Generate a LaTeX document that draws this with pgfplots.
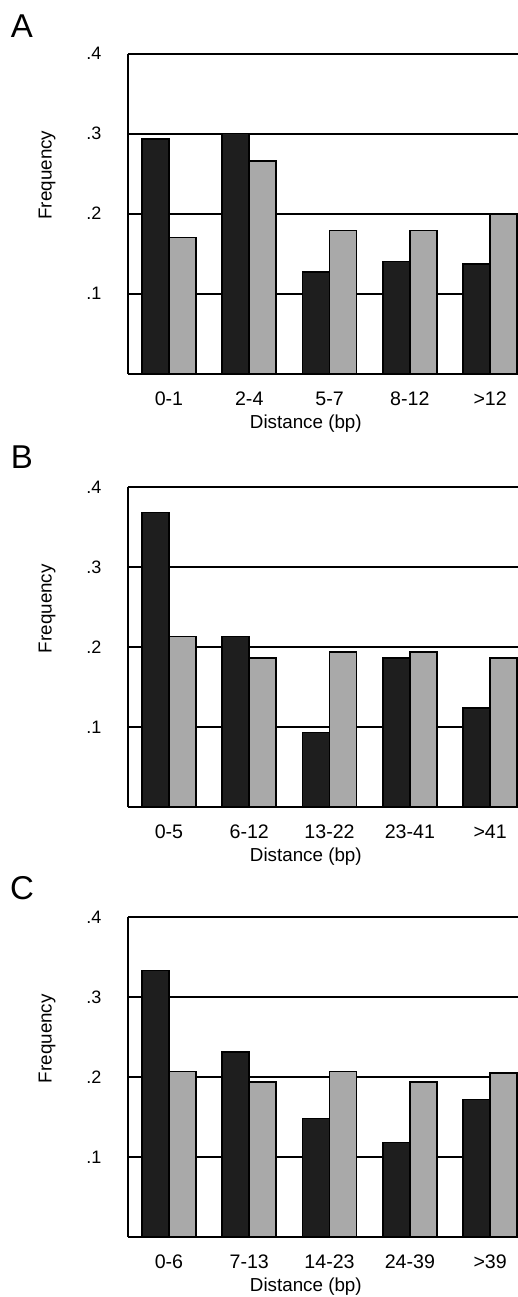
\documentclass[border=0pt]{standalone}
\usepackage{fontspec}
\setmainfont{Liberation Sans}
\usepackage{pgfplots}
\pgfplotsset{compat=1.18}
\definecolor{darkbar}{HTML}{1E1E1E}
\definecolor{greybar}{HTML}{A9A9A9}

\pgfplotsset{
  freq/.style={
    scale only axis, width=195pt, height=160pt,
    xmin=-0.51, xmax=4.347, ymin=0, ymax=0.4,
    enlargelimits=false, clip=false,
    axis x line*=bottom, axis y line*=left,
    axis line style={line width=1pt},
    ybar, bar width=13.5pt,
    ytick={0.1,0.2,0.3,0.4}, yticklabels={.1,.2,.3,.4},
    xtick={0,1,2,3,4},
    ymajorgrids, grid style={black, line width=1pt},
    major tick length=0pt,
    /pgf/number format/assume math mode=true,
    yticklabel style={anchor=center, xshift=-17pt, font=\fontsize{9}{10}\selectfont},
    xticklabel style={anchor=center, yshift=-12.5pt, font=\fontsize{9.8}{11}\selectfont},
    xlabel={Distance (bp)}, ylabel={Frequency},
    xlabel style={at={(axis description cs:0.456,0)}, anchor=center, yshift=-25pt, font=\fontsize{9.4}{11}\selectfont},
    ylabel style={at={(axis description cs:-0.2077,0.62)}, anchor=center, font=\fontsize{9.4}{11}\selectfont},
  },
  dark/.style={fill=darkbar, draw=black, line width=0.8pt, bar shift=-6.75pt},
  grey/.style={fill=greybar, draw=black, line width=0.8pt, bar shift=6.75pt},
}

\begin{document}
\begin{tikzpicture}
\path[use as bounding box] (0,0) rectangle (259pt,-648.5pt);

% panel A
\node[font=\fontsize{16.5}{19}\selectfont] at (11pt,-13pt) {A};
\begin{axis}[freq, at={(64pt,-186.75pt)}, anchor=south west,
  xticklabels={0-1,2-4,5-7,8-12,>12}]
  \addplot[dark] coordinates {(0,0.293) (1,0.300) (2,0.127) (3,0.140) (4,0.137)};
  \addplot[grey] coordinates {(0,0.170) (1,0.266) (2,0.179) (3,0.179) (4,0.199)};
\end{axis}

% panel B
\node[font=\fontsize{16.5}{19}\selectfont] at (11pt,-228.5pt) {B};
\begin{axis}[freq, at={(64pt,-403.5pt)}, anchor=south west,
  xticklabels={0-5,6-12,13-22,23-41,>41}]
  \addplot[dark] coordinates {(0,0.368) (1,0.213) (2,0.093) (3,0.186) (4,0.124)};
  \addplot[grey] coordinates {(0,0.213) (1,0.186) (2,0.194) (3,0.194) (4,0.186)};
\end{axis}

% panel C
\node[font=\fontsize{16.5}{19}\selectfont] at (11pt,-444pt) {C};
\begin{axis}[freq, at={(64pt,-618.5pt)}, anchor=south west,
  xticklabels={0-6,7-13,14-23,24-39,>39}]
  \addplot[dark] coordinates {(0,0.333) (1,0.231) (2,0.148) (3,0.118) (4,0.172)};
  \addplot[grey] coordinates {(0,0.207) (1,0.194) (2,0.207) (3,0.194) (4,0.205)};
\end{axis}
\end{tikzpicture}
\end{document}
